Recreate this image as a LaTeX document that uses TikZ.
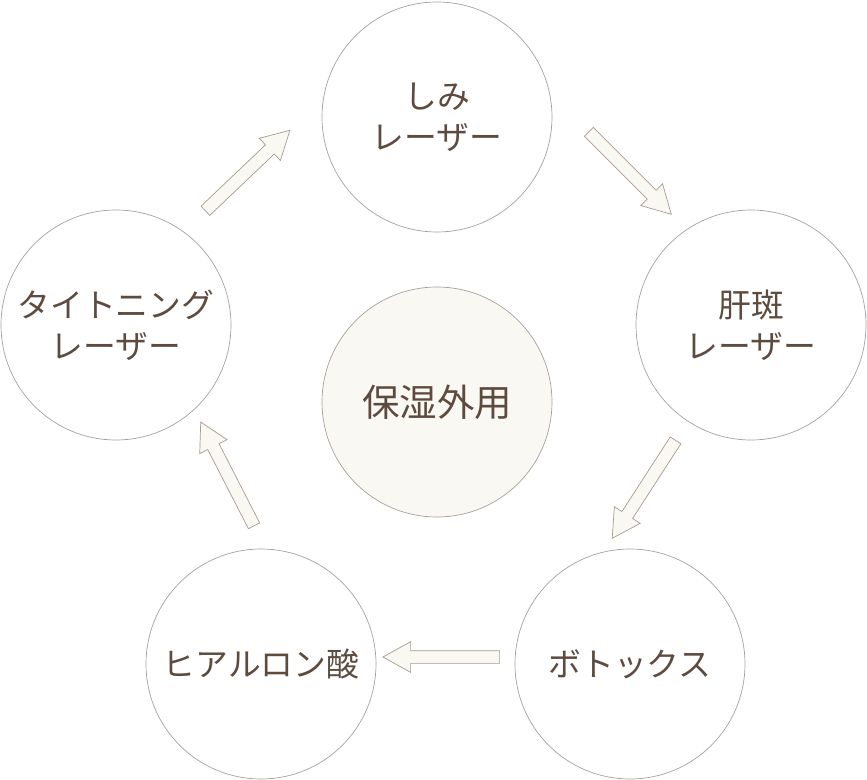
\documentclass[tikz,border=0pt]{standalone}
\usepackage{fontspec}
\newfontfamily\jpfont{Noto Sans CJK JP}
\usetikzlibrary{positioning}
\usetikzlibrary{shapes.arrows}

\definecolor{textbrown}{HTML}{5E4B3F}
\definecolor{ringgray}{HTML}{A9A09A}
\definecolor{arrowline}{HTML}{A89A90}
\definecolor{cream}{HTML}{FAF8F3}

\tikzset{
    ring/.style={circle, draw=ringgray, line width=0.6pt, minimum size=69mm, inner sep=0pt,
        align=center, text=textbrown, font=\jpfont\fontsize{28pt}{35pt}\selectfont},
    core/.style={ring, fill=cream, font=\jpfont\fontsize{32pt}{38pt}\selectfont},
    blockarrow/.style={single arrow, draw=arrowline, fill=cream, line width=0.6pt,
        minimum height=35mm, minimum width=9mm, inner xsep=0pt, inner ysep=1.8mm,
        single arrow head extend=2.7mm, single arrow tip angle=58}
}

\begin{document}
\begin{tikzpicture}[x=0.3mm, y=-0.3mm]
    \useasboundingbox (0,0) rectangle (867,780);

    %draw circles
    \node[ring] (shimi) at (437,117) {しみ\\レーザー};
    \node[ring] (kanpan) at (751,325) {肝斑\\レーザー};
    \node[ring] (botox) at (630,664) {ボトックス};
    \node[ring] (hyaluron) at (261,664) {ヒアルロン酸};
    \node[ring] (tight) at (116,325) {タイトニング\\レーザー};
    \node[core] (hoshitsu) at (437,402) {保湿外用};

    %draw arrows
    \foreach \i/\x/\y/\a in {1/626/169/-45, 2/647/484.5/-122.9, 3/447/657/180,
        4/230/479/117.2, 5/243.5/174.5/43.6}
    \node[blockarrow, rotate=\a] (arr\i) at (\x,\y) {};

\end{tikzpicture}
\end{document}
